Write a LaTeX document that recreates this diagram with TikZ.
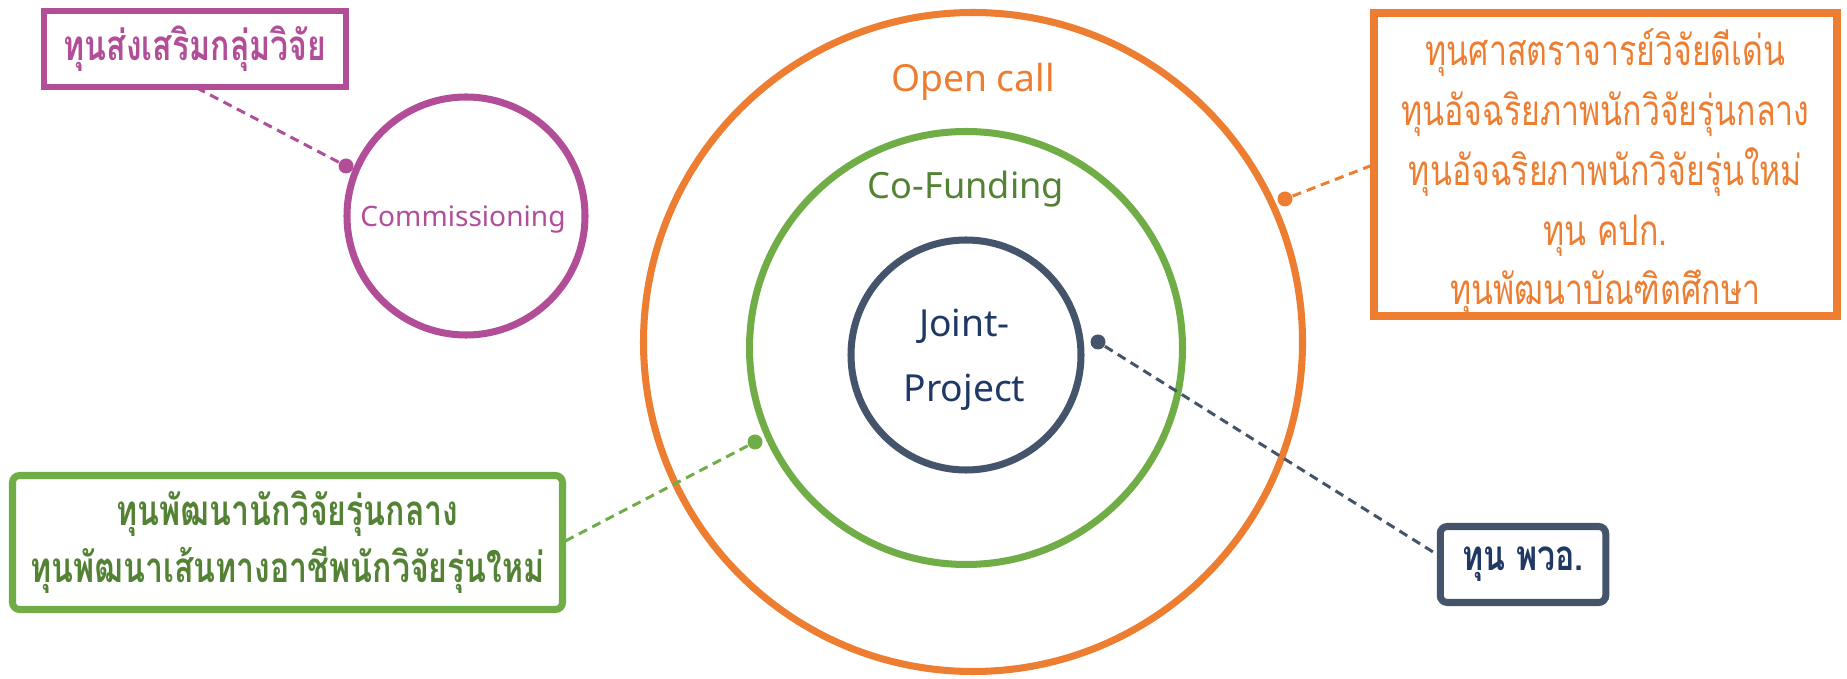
\documentclass[tikz,border=0pt]{standalone}
\usepackage{fontspec}
\setmainfont{Noto Sans}
\newfontfamily\thaifont[Script=Thai, FakeStretch=0.76]{Loma}
\definecolor{callorange}{HTML}{ED7D31}
\definecolor{fundgreen}{HTML}{70AD47}
\definecolor{fundtext}{HTML}{548235}
\definecolor{jointgray}{HTML}{44546A}
\definecolor{jointnavy}{HTML}{1F3864}
\definecolor{commpurple}{HTML}{B24E98}

\begin{document}
\begin{tikzpicture}[ringnode/.style={circle, line width=2pt, inner sep=0pt, outer sep=0pt},
  fundbox/.style={rectangle, inner sep=0pt, outer sep=0pt, align=center, font=\thaifont\fontsize{12}{16.4}\selectfont},
  leader/.style={dash pattern=on 2.6pt off 1.7pt, line width=0.85pt},
  pin/.style={circle, inner sep=0pt, minimum size=0.15cm}]
\useasboundingbox (0,0) rectangle (18.47,-6.79);
\node[ringnode, draw=callorange, minimum size=6.59cm] (opencall) at (9.73,-3.42) {};
\node[ringnode, draw=fundgreen, minimum size=4.33cm] (cofunding) at (9.66,-3.48) {};
\node[ringnode, draw=jointgray, minimum size=2.3cm] (joint) at (9.66,-3.55) {};
\node[ringnode, draw=commpurple, minimum size=2.38cm] (commission) at (4.66,-2.16) {};
\node[text=callorange, font=\fontsize{10.6}{12}\selectfont] (opencalllabel) at (9.73,-0.82) {Open call};
\node[text=fundtext, font=\fontsize{10.3}{12}\selectfont] (cofundinglabel) at (9.66,-1.89) {Co-Funding};
\node[text=jointnavy, align=center, font=\fontsize{10.6}{18.5}\selectfont] (jointlabel) at (9.645,-3.6) {Joint-\\Project};
\node[text=commpurple, font=\fontsize{8}{10}\selectfont] (commissionlabel) at (4.63,-2.2) {Commissioning};
\node[fundbox, draw=callorange, line width=2.3pt, minimum width=4.63cm, minimum height=3.03cm, text=callorange, font=\thaifont\fontsize{12}{17}\selectfont] (callbox) at (16.055,-1.645) {\rule{0pt}{15pt}ทุนศาสตราจารย์วิจัยดีเด่น\\ทุนอัจฉริยภาพนักวิจัยรุ่นกลาง\\ทุนอัจฉริยภาพนักวิจัยรุ่นใหม่\\ทุน คปก.\\ทุนพัฒนาบัณฑิตศึกษา};
\node[fundbox, draw=fundgreen, line width=2pt, rounded corners=2pt, minimum width=5.5cm, minimum height=1.34cm, text=fundtext, font=\thaifont\bfseries\fontsize{12}{16.2}\selectfont] (fundbox) at (2.875,-5.425) {ทุนพัฒนานักวิจัยรุ่นกลาง\\ทุนพัฒนาเส้นทางอาชีพนักวิจัยรุ่นใหม่};
\node[fundbox, draw=jointgray, line width=2pt, rounded corners=2pt, minimum width=1.655cm, minimum height=0.76cm, text=jointnavy, font=\thaifont\bfseries\fontsize{12}{16}\selectfont] (jointbox) at (15.23,-5.645) {ทุน พวอ.};
\node[fundbox, draw=commpurple, line width=1.7pt, minimum width=3.02cm, minimum height=0.76cm, text=commpurple, font=\thaifont\bfseries\fontsize{12}{16}\selectfont] (commbox) at (1.95,-0.49) {ทุนส่งเสริมกลุ่มวิจัย};
\node[pin, fill=callorange] (callpin) at (12.85,-1.99) {};
\node[pin, fill=fundgreen] (fundpin) at (7.55,-4.42) {};
\node[pin, fill=jointgray] (jointpin) at (10.98,-3.42) {};
\node[pin, fill=commpurple] (commpin) at (3.46,-1.66) {};
\draw[leader, callorange] (callpin) -- (callbox.west);
\draw[leader, fundgreen] (fundpin) -- (fundbox.east);
\draw[leader, jointgray] (jointpin) -- ([yshift=0.08cm]jointbox.west);
\draw[leader, commpurple] (commpin) -- (commbox.south);
\end{tikzpicture}
\end{document}
